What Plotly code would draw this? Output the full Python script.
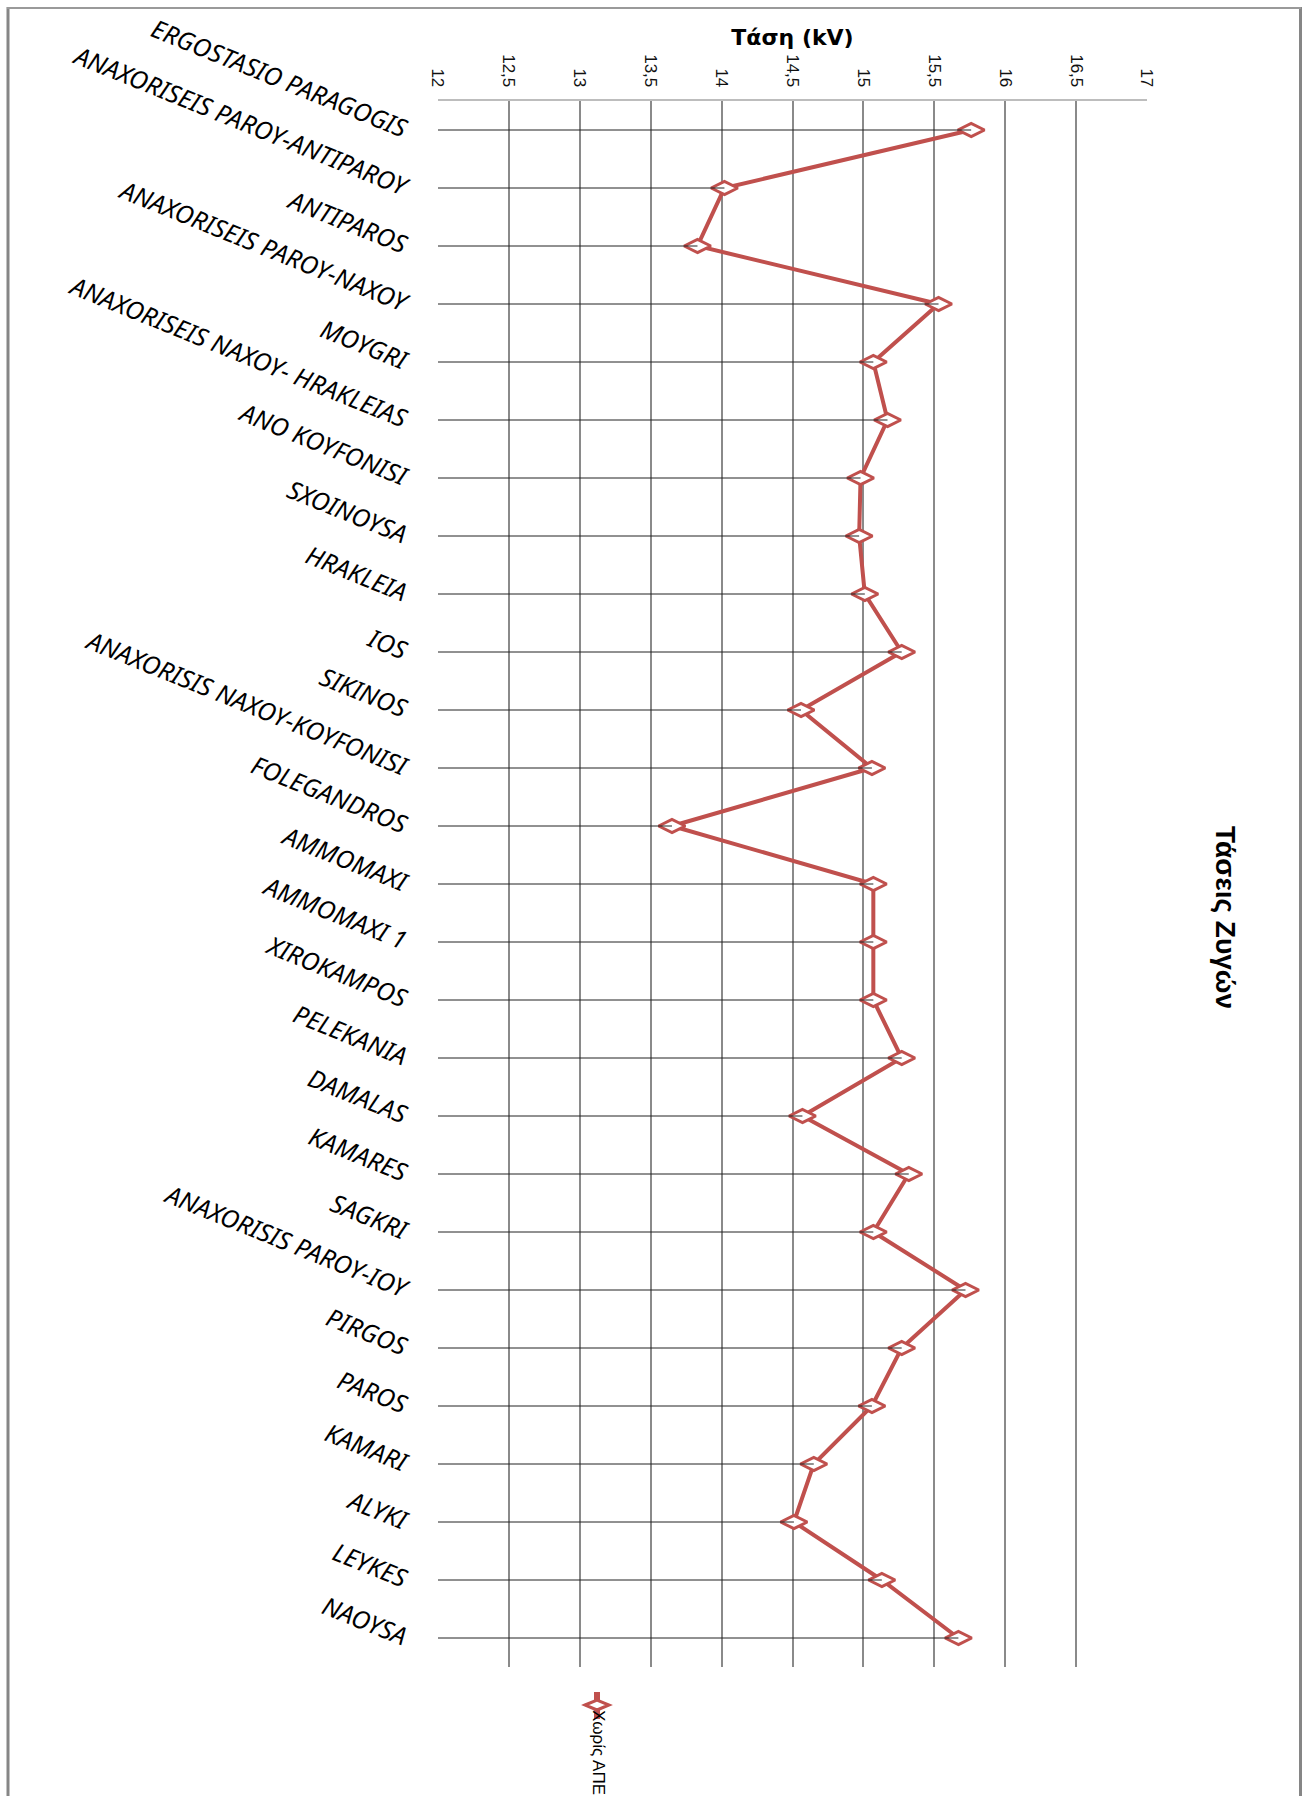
import plotly.graph_objects as go

# ---------------- data ----------------
categories = [
    "ERGOSTASIO PARAGOGIS",
    "ANAXORISEIS PAROY-ANTIPAROY",
    "ANTIPAROS",
    "ANAXORISEIS PAROY-NAXOY",
    "MOYGRI",
    "ANAXORISEIS NAXOY- HRAKLEIAS",
    "ANO KOYFONISI",
    "SXOINOYSA",
    "HRAKLEIA",
    "IOS",
    "SIKINOS",
    "ANAXORISIS NAXOY-KOYFONISI",
    "FOLEGANDROS",
    "AMMOMAXI",
    "AMMOMAXI 1",
    "XIROKAMPOS",
    "PELEKANIA",
    "DAMALAS",
    "KAMARES",
    "SAGKRI",
    "ANAXORISIS PAROY-IOY",
    "PIRGOS",
    "PAROS",
    "KAMARI",
    "ALYKI",
    "LEYKES",
    "NAOYSA",
]

voltage_no_res = [
    15.76, 14.02, 13.83, 15.53, 15.07, 15.17, 14.98, 14.97, 15.01,
    15.27, 14.56, 15.06, 13.65, 15.07, 15.07, 15.07, 15.27, 14.57,
    15.32, 15.07, 15.72, 15.27, 15.06, 14.65, 14.51, 15.13, 15.67,
]

series_name = "Χωρίς ΑΠΕ"
chart_title = "Τάσεις Ζυγών"
axis_title = "Τάση (kV)"
x_min, x_max, x_step = 12, 17, 0.5

RED = "#C0504D"
SANS = "Liberation Sans, Arial, sans-serif"
ITAL = "Noto Sans, Liberation Sans, Arial, sans-serif"

# ---------------- layout geometry (pixels) ----------------
W, H = 1303, 1796
L, R, T, B = 438, 1303 - 1147, 101, 1796 - 1667
PW, PH = W - L - R, H - T - B


def px(xp):
    return (xp - L) / PW


def py(yp):
    return (H - B - yp) / PH


fig = go.Figure()

# main series
fig.add_trace(go.Scatter(
    x=voltage_no_res, y=categories, mode="lines+markers", name=series_name,
    line=dict(color=RED, width=4),
    marker=dict(symbol="diamond-wide", size=19, color="white",
                line=dict(color=RED, width=3)),
    showlegend=False,
))

# drop lines from the axis minimum to each point
dx, dy = [], []
for c, v in zip(categories, voltage_no_res):
    dx += [x_min, v, None]
    dy += [c, c, None]
fig.add_trace(go.Scatter(
    x=dx, y=dy, mode="lines", line=dict(color="#222222", width=1),
    hoverinfo="skip", showlegend=False,
))

shapes = []
# outer frame
shapes.append(dict(type="line", xref="paper", yref="paper",
                   x0=px(8), x1=px(8), y0=py(7), y1=py(H + 5),
                   line=dict(color="#868686", width=3)))
shapes.append(dict(type="line", xref="paper", yref="paper",
                   x0=px(1300.5), x1=px(1300.5), y0=py(7), y1=py(H + 5),
                   line=dict(color="#868686", width=3)))
shapes.append(dict(type="line", xref="paper", yref="paper",
                   x0=px(7), x1=px(1301), y0=py(8), y1=py(8),
                   line=dict(color="#9a9a9a", width=2)))

# rotated legend symbol
lx, ly = 597, 1705
shapes.append(dict(type="line", xref="paper", yref="paper",
                   x0=px(lx), x1=px(lx), y0=py(1692), y1=py(1719),
                   line=dict(color=RED, width=6)))
hw, hh = 12, 5
shapes.append(dict(type="path", xref="paper", yref="paper",
                   path=(f"M{px(lx - hw)},{py(ly)} L{px(lx)},{py(ly - hh)} "
                         f"L{px(lx + hw)},{py(ly)} L{px(lx)},{py(ly + hh)} Z"),
                   fillcolor="white", line=dict(color=RED, width=3)))

annotations = [
    dict(text=f"<b>{chart_title}</b>", textangle=90, xref="paper", yref="paper",
         x=px(1225), y=py(917), showarrow=False, xanchor="center", yanchor="middle",
         font=dict(family=SANS, size=28, color="#000000")),
    dict(text=series_name, textangle=90, xref="paper", yref="paper",
         x=px(599), y=py(1752), showarrow=False, xanchor="center", yanchor="middle",
         font=dict(family=SANS, size=17, color="#000000")),
]

fig.update_layout(
    width=W, height=H,
    margin=dict(l=L, r=R, t=T, b=B, pad=0),
    paper_bgcolor="white", plot_bgcolor="white",
    separators=",.",
    showlegend=False,
    shapes=shapes,
    annotations=annotations,
    xaxis=dict(
        side="top", range=[x_min, x_max], dtick=x_step, tick0=x_min,
        tickangle=90, showgrid=True, gridcolor="#8a8a8a", gridwidth=1.5,
        zeroline=False, showline=True, linecolor="#bdbdbd", linewidth=1.5,
        ticks="", ticklabelstandoff=6,
        tickfont=dict(family=SANS, size=17, color="#111111"),
        title=dict(text=f"<b>{axis_title}</b>", standoff=3,
                   font=dict(family="DejaVu Sans, Verdana, sans-serif", size=22, color="#000000")),
    ),
    yaxis=dict(
        type="category", categoryorder="array", categoryarray=categories,
        range=[len(categories) - 0.5, -0.5],
        tickmode="array", tickvals=categories,
        ticktext=[f"<i>{c}</i>" for c in categories],
        showgrid=False, zeroline=False, showline=False, ticks="",
        tickangle=22, ticklabelstandoff=30,
        tickfont=dict(family=ITAL, size=25, color="#000000", style="italic"),
    ),
)

fig.write_html("out.html", config={"displayModeBar": False},
               post_script="document.body.style.margin='0';")
